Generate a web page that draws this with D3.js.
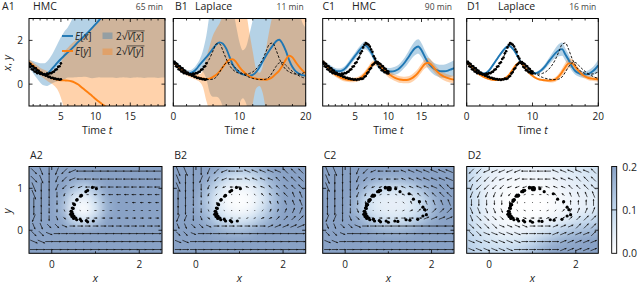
<!DOCTYPE html>
<html><head><meta charset="utf-8">
<script src="https://cdn.jsdelivr.net/npm/d3@7/dist/d3.min.js"></script>
<style>
html,body{margin:0;padding:0;background:#fff;}
svg{display:block;}
text{font-family:"Open Sans","DejaVu Sans",sans-serif;fill:#222;}
</style></head><body>
<svg id="chart" width="640" height="284"></svg>
<script>
// ================= DATA =================
const tGrid = [0,0.5,1,1.5,2,2.5,3,3.5,4,4.5,5,5.5,6,6.5,7,7.5,8,8.5,9,9.5,10,10.5,11,11.5,12,12.5,13,13.5,14,14.5,15,15.5,16,16.5,17,17.5,18,18.5,19,19.5,20];
// true trajectory (dashed)
const trueX = [1.00,0.80,0.64,0.54,0.48,0.45,0.46,0.50,0.58,0.72,0.92,1.18,1.52,1.84,1.84,1.52,1.15,0.85,0.66,0.55,0.49,0.46,0.46,0.49,0.56,0.69,0.88,1.14,1.48,1.82,1.88,1.58,1.18,0.87,0.67,0.56,0.49,0.46,0.46,0.49,0.56];
const trueY = [1.00,0.92,0.80,0.67,0.55,0.45,0.37,0.31,0.26,0.23,0.21,0.21,0.23,0.33,0.55,0.80,0.97,0.99,0.86,0.71,0.58,0.47,0.38,0.31,0.26,0.23,0.21,0.21,0.23,0.33,0.55,0.80,0.97,0.99,0.86,0.71,0.58,0.47,0.38,0.31,0.26];
// observations (dots)
const obsT = [0,0.2,0.4,0.6,0.8,1,1.2,1.4,1.6,1.8,2,2.2,2.4,2.6,2.8,3,3.2,3.4,3.6,3.8,4,4.2,4.4,4.6,4.8,5,5.2,5.4,5.6,5.8,6,6.2,6.4,6.6,6.8,7,7.2,7.4,7.6,7.8,8,8.2,8.4,8.6,8.8,9,9.2,9.4,9.6,9.8,10];
const obsX = [1.02,0.93,0.82,0.78,0.68,0.66,0.58,0.57,0.50,0.52,0.47,0.49,0.44,0.46,0.43,0.48,0.46,0.51,0.50,0.55,0.57,0.65,0.68,0.79,0.82,0.95,1.00,1.15,1.22,1.41,1.50,1.68,1.80,1.88,1.84,1.80,1.72,1.58,1.48,1.27,1.17,1.01,0.93,0.79,0.75,0.64,0.62,0.55,0.55,0.50,0.49];
const obsY = [0.99,1.02,0.95,0.92,0.83,0.81,0.73,0.72,0.63,0.61,0.53,0.52,0.45,0.44,0.38,0.39,0.33,0.33,0.28,0.29,0.25,0.26,0.22,0.23,0.20,0.22,0.19,0.22,0.21,0.25,0.24,0.26,0.34,0.37,0.49,0.55,0.68,0.74,0.87,0.92,0.99,0.98,1.01,0.95,0.92,0.84,0.81,0.72,0.69,0.60,0.58];

// posterior means and 2*sqrt(V) half-widths
const meanXA = [1.02,0.92,0.78,0.64,0.52,0.45,0.48,0.62,0.80,0.98,1.15,1.31,1.45,1.60,1.76,1.93,2.08,2.24,2.40,2.57,2.74,2.92,3.10,3.30,3.50,3.70,3.90,4.10,4.30,4.50,4.70,4.90,5.10,5.30,5.50,5.70,5.90,6.10,6.30,6.50,6.70];
const meanYA = [1.05,0.98,0.84,0.70,0.57,0.47,0.38,0.30,0.24,0.20,0.18,0.17,0.16,0.13,0.07,-0.02,-0.15,-0.28,-0.41,-0.54,-0.68,-0.81,-0.93,-1.03,-1.13,-1.23,-1.33,-1.43,-1.53,-1.63,-1.73,-1.83,-1.93,-2.03,-2.13,-2.23,-2.33,-2.43,-2.53,-2.63,-2.73];
const sdXA = [0.15,0.2,0.28,0.36,0.44,0.5,0.56,0.62,0.72,0.85,1.0,1.1,1.15,1.3,1.45,1.6,1.75,1.9,2.1,2.3,2.45,2.6,2.8,3.0,3.2,3.4,3.62,3.8,3.98,4.2,4.42,4.6,4.78,5.0,5.22,5.4,5.6,5.8,6.02,6.2,6.4];
const sdYA = [0.1,0.12,0.15,0.17,0.18,0.2,0.22,0.25,0.3,0.45,0.8,1.3,1.5,1.7,1.9,2.1,2.3,2.5,2.8,3.1,3.4,3.7,4.0,4.3,4.6,4.9,5.2,5.5,5.8,6.1,6.4,6.7,7.0,7.3,7.6,7.9,8.2,8.5,8.8,9.1,9.4];

const meanXB = [1.04,0.92,0.78,0.63,0.53,0.50,0.56,0.70,0.89,1.06,1.23,1.42,1.62,1.82,1.91,1.85,1.62,1.25,0.88,0.65,0.52,0.45,0.41,0.38,0.42,0.55,0.76,1.03,1.30,1.54,1.75,1.95,2.03,1.85,1.52,1.10,0.78,0.58,0.47,0.41,0.38];
const meanYB = [1.00,0.86,0.73,0.60,0.50,0.43,0.38,0.33,0.28,0.25,0.23,0.25,0.33,0.43,0.58,0.78,0.98,1.12,1.14,1.00,0.78,0.60,0.46,0.36,0.29,0.25,0.22,0.21,0.20,0.24,0.33,0.47,0.62,0.85,1.12,1.30,1.22,1.00,0.80,0.63,0.50];
const sdXB = [0.08,0.09,0.1,0.11,0.12,0.13,0.15,0.19,0.25,0.5,1.0,1.8,2.2,2.4,2.6,2.9,3.2,3.0,2.6,2.0,1.4,1.1,1.3,1.9,2.5,3.0,3.5,3.5,3.5,3.4,3.2,3.0,3.0,3.2,3.5,3.5,3.3,3.0,2.8,2.4,2.2];
const sdYB = [0.08,0.08,0.09,0.1,0.1,0.11,0.12,0.14,0.18,0.4,1.0,1.5,1.9,2.1,2.2,2.4,2.7,2.9,3.0,3.1,3.1,3.0,2.8,2.0,1.2,0.45,0.3,0.6,1.4,2.2,2.8,3.0,3.0,3.0,3.0,3.0,3.0,3.0,3.0,3.0,3.0];

const meanXC = [0.97,0.90,0.80,0.70,0.62,0.59,0.62,0.72,0.90,1.10,1.30,1.50,1.68,1.77,1.65,1.41,1.10,0.85,0.70,0.61,0.58,0.58,0.61,0.68,0.82,1.00,1.22,1.45,1.64,1.72,1.55,1.25,0.98,0.80,0.68,0.62,0.59,0.59,0.62,0.68,0.74];
const meanYC = [1.04,0.92,0.75,0.56,0.44,0.35,0.27,0.22,0.20,0.19,0.20,0.24,0.33,0.48,0.68,0.88,0.98,0.92,0.76,0.60,0.47,0.37,0.29,0.23,0.20,0.19,0.20,0.26,0.37,0.53,0.73,0.92,0.98,0.88,0.70,0.54,0.41,0.33,0.27,0.23,0.20];
const sdXC = [0.12,0.12,0.12,0.12,0.12,0.12,0.12,0.12,0.13,0.14,0.15,0.16,0.17,0.18,0.17,0.16,0.15,0.15,0.15,0.15,0.16,0.17,0.18,0.19,0.21,0.23,0.26,0.29,0.32,0.33,0.32,0.3,0.28,0.27,0.27,0.28,0.3,0.31,0.33,0.34,0.35];
const sdYC = [0.1,0.1,0.1,0.1,0.1,0.1,0.1,0.1,0.1,0.1,0.1,0.11,0.12,0.13,0.14,0.14,0.14,0.14,0.14,0.14,0.15,0.15,0.15,0.15,0.15,0.15,0.16,0.17,0.18,0.19,0.2,0.21,0.21,0.2,0.19,0.18,0.17,0.17,0.17,0.17,0.17];

const meanXD = [1.00,0.88,0.75,0.63,0.54,0.48,0.52,0.66,0.88,1.10,1.32,1.52,1.68,1.74,1.62,1.40,1.12,0.88,0.72,0.60,0.52,0.50,0.56,0.68,0.85,1.05,1.24,1.42,1.55,1.60,1.35,1.10,0.80,0.60,0.50,0.45,0.44,0.47,0.55,0.68,0.86];
const meanYD = [1.00,0.85,0.70,0.55,0.43,0.34,0.28,0.23,0.20,0.19,0.20,0.23,0.30,0.45,0.67,0.88,0.97,0.90,0.70,0.52,0.38,0.28,0.22,0.19,0.17,0.16,0.17,0.22,0.35,0.55,0.78,0.95,0.95,0.80,0.60,0.45,0.35,0.28,0.25,0.23,0.22];
const sdXD = [0.06,0.06,0.06,0.06,0.06,0.06,0.06,0.06,0.06,0.06,0.06,0.06,0.06,0.06,0.06,0.06,0.06,0.06,0.06,0.06,0.06,0.06,0.07,0.09,0.12,0.15,0.18,0.23,0.28,0.3,0.28,0.25,0.2,0.17,0.15,0.15,0.15,0.16,0.19,0.22,0.26];
const sdYD = [0.05,0.05,0.05,0.05,0.05,0.05,0.05,0.05,0.05,0.05,0.05,0.05,0.05,0.05,0.05,0.05,0.05,0.05,0.05,0.05,0.05,0.05,0.05,0.05,0.06,0.07,0.09,0.11,0.14,0.17,0.2,0.22,0.2,0.17,0.14,0.12,0.1,0.1,0.1,0.1,0.11];

const panelLabelsTop = ["A1","B1","C1","D1"];
const panelLabelsBottom = ["A2","B2","C2","D2"];
const methodNames = ["HMC","Laplace","HMC","Laplace"];
const runtimes = ["65 min","11 min","90 min","16 min"];
const timeTicksHMC = [5,10,15];
const timeTicksLaplace = [0,10,20];
const yTicksTop = [0,2];
const xTicksPhase = [0,2];
const yTicksPhase = [0,1];
const cbarTicks = [0.0,0.1,0.2];

// quiver grid (arrow centres)
const quiverX = [-0.41,-0.24,-0.06,0.12,0.29,0.47,0.65,0.82,1.00,1.18,1.35,1.53,1.71,1.88,2.06,2.24,2.41];
const quiverY = [1.41,1.22,1.03,0.85,0.66,0.47,0.29,0.10,-0.08,-0.27,-0.46];
// direction codes: hex digit k -> angle k*22.5deg counter-clockwise from +x ; length codes 0-9
const dirA = ["edcba988888888888","edcba988888888888","dccba998888888888","dcccba98888888888","cccccba8888888888","ccccdef0000000000","bccdef00000000000","ddeef000000000000","eef00000000000000","ff000000000000000","00000000000000000"];
const lenA = ["77777777777777777","88766666666666666","98765444455555555","98753222334444444","98642111222223333","87532111222222222","76543223333333333","66555555555555555","66666777777777777","77778888888888888","77788888888888888"];
const dirB = ["ddccba98877777666","dccbba98877776666","dcccba98877766666","ccccba98766666655","cccccba8655555555","ccccdef0122233333","bbcdef00011112222","ddeef000000011111","eef00000000000000","ff000000000000000","00000000000000000"];
const lenB = ["99876666666666666","99875555555555666","99864333333444556","98753211112334556","98642111111233456","87542111111233456","76543222222334556","55555555555556667","55566777777777777","66677888888888888","66677888888888888"];
const dirC = ["ddccba98887777777","dcccba98887777777","dcccba99887777766","ccccbba9877766666","ccccccba866555555","ccccddef011122222","bbcdeff0000001111","ddeef000000000000","eef00000000000000","ff000000000000000","00000000000000000"];
const lenC = ["99876655555666777","99876544444556667","99875433334455666","99865322223345566","98764311112344556","88754211112344556","77654333334455666","55556666777777788","55567788888888888","66678888888888888","66678888888888888"];
const dirD = ["aa999998888777776","aaaa9998888777666","baaaa999887776666","bbbbbaa9887665555","ccccccccb54444444","dddddeeff01223333","deeeeeff001122222","eeeeffff000111222","eefffff0000111112","fffffff0000011111","ffffff00000011111"];
const lenD = ["66666666666666666","66665555555555666","66655444444445566","66554332222334556","66544321001234456","66554322112234556","66654433333334566","66665555555555666","66666666666666666","66666666666666666","66666666666666666"];

// uncertainty heat maps (rows top y=1.5 to bottom y=-0.5)
const heatX = [-0.5,-0.25,0,0.25,0.5,0.75,1,1.25,1.5,1.75,2,2.25,2.5];
const heatY = [1.5,1.25,1,0.75,0.5,0.25,0,-0.25,-0.5];
const heatA = [
 [.2,.2,.2,.2,.2,.2,.2,.2,.2,.2,.2,.2,.2],
 [.2,.2,.2,.2,.2,.19,.2,.2,.2,.2,.2,.2,.2],
 [.2,.2,.2,.2,.14,.1,.15,.2,.2,.2,.2,.2,.2],
 [.2,.2,.2,.17,.06,.03,.09,.18,.2,.2,.2,.2,.2],
 [.2,.2,.2,.16,.03,.0,.06,.17,.2,.2,.2,.2,.2],
 [.2,.2,.2,.19,.1,.06,.12,.2,.2,.2,.2,.2,.2],
 [.2,.2,.2,.2,.2,.2,.2,.2,.2,.2,.2,.2,.2],
 [.2,.2,.2,.2,.2,.2,.2,.2,.2,.2,.2,.2,.2],
 [.2,.2,.2,.2,.2,.2,.2,.2,.2,.2,.2,.2,.2]];
const heatB = [
 [.2,.2,.2,.2,.19,.16,.14,.15,.18,.2,.2,.2,.2],
 [.2,.2,.2,.19,.14,.09,.07,.08,.13,.18,.2,.2,.2],
 [.2,.2,.2,.16,.08,.03,.02,.03,.07,.15,.2,.2,.2],
 [.2,.2,.19,.13,.05,.01,.0,.01,.05,.13,.2,.2,.2],
 [.2,.2,.19,.14,.06,.02,.01,.02,.07,.15,.2,.2,.2],
 [.2,.2,.2,.17,.11,.07,.06,.08,.13,.18,.2,.2,.2],
 [.2,.2,.2,.2,.18,.16,.15,.17,.2,.2,.2,.2,.2],
 [.2,.2,.2,.2,.2,.2,.2,.2,.2,.2,.2,.2,.2],
 [.2,.2,.2,.2,.2,.2,.2,.2,.2,.2,.2,.2,.2]];
const heatC = [
 [.2,.2,.2,.2,.2,.2,.2,.2,.2,.2,.2,.2,.2],
 [.2,.2,.2,.2,.2,.19,.18,.18,.19,.2,.2,.2,.2],
 [.2,.2,.2,.2,.15,.1,.08,.08,.1,.15,.19,.2,.2],
 [.2,.2,.2,.17,.09,.05,.04,.04,.05,.09,.16,.2,.2],
 [.2,.2,.2,.16,.08,.05,.04,.04,.05,.08,.15,.2,.2],
 [.2,.2,.2,.19,.14,.09,.07,.07,.09,.13,.18,.2,.2],
 [.2,.2,.2,.2,.2,.18,.17,.17,.18,.2,.2,.2,.2],
 [.2,.2,.2,.2,.2,.2,.2,.2,.2,.2,.2,.2,.2],
 [.2,.2,.2,.2,.2,.2,.2,.2,.2,.2,.2,.2,.2]];
const heatD = [
 [.1,.07,.05,.04,.04,.04,.04,.04,.05,.05,.06,.07,.08],
 [.1,.06,.04,.03,.02,.02,.02,.02,.03,.04,.05,.06,.07],
 [.1,.06,.03,.02,.01,.01,.01,.01,.02,.03,.04,.05,.06],
 [.1,.06,.03,.01,.0,.0,.0,.0,.01,.02,.03,.04,.05],
 [.1,.06,.03,.01,.0,.0,.0,.0,.01,.02,.03,.04,.06],
 [.1,.06,.03,.02,.01,.01,.01,.02,.03,.05,.07,.09,.1],
 [.1,.07,.05,.03,.03,.03,.04,.06,.09,.12,.14,.15,.16],
 [.11,.09,.07,.06,.06,.07,.09,.13,.16,.18,.19,.2,.2],
 [.12,.1,.09,.09,.1,.12,.15,.18,.2,.2,.2,.2,.2]];

// ================= DRAWING =================
const svg = d3.select("#chart");
const defs = svg.append("defs");
const BLUE = "#1f77b4", ORANGE = "#ff7f0e";
const BLUE_BAND = "rgba(31,119,180,0.33)", ORANGE_BAND = "rgba(255,127,14,0.35)";

const topY0 = 18.5, topY1 = 106;
const yTop = d3.scaleLinear().domain([-1,3]).range([topY1, topY0]);

const topPanels = [
 {k:"A", x0:29, x1:165, dom:[0.4,20], ticks:timeTicksHMC, minor:1, lx:2, mx:33, ylab:true, trueMax:5, obsMax:5, ex:meanXA, ey:meanYA, sx:sdXA, sy:sdYA},
 {k:"B", x0:173.3, x1:305.7, dom:[0,20], ticks:timeTicksLaplace, minor:2, lx:175, mx:195, ylab:false, trueMax:20, obsMax:5, ex:meanXB, ey:meanYB, sx:sdXB, sy:sdYB},
 {k:"C", x0:322.7, x1:454, dom:[0.1,19.9], ticks:timeTicksHMC, minor:1, lx:322.5, mx:352, ylab:false, trueMax:10, obsMax:10, ex:meanXC, ey:meanYC, sx:sdXC, sy:sdYC},
 {k:"D", x0:466.7, x1:598.3, dom:[0,20], ticks:timeTicksLaplace, minor:2, lx:467, mx:498, ylab:false, trueMax:20, obsMax:10, ex:meanXD, ey:meanYD, sx:sdXD, sy:sdYD}
];

function italicText(sel, parts) {
  parts.forEach(p => sel.append("tspan").text(p[0]).attr("font-style", p[1] ? "italic" : "normal"));
}

topPanels.forEach((p, pi) => {
  const x = d3.scaleLinear().domain(p.dom).range([p.x0, p.x1]);
  const cid = "clipTop" + p.k;
  defs.append("clipPath").attr("id", cid).append("rect")
    .attr("x", p.x0).attr("y", topY0).attr("width", p.x1 - p.x0).attr("height", topY1 - topY0);
  const g = svg.append("g");
  const pg = g.append("g").attr("clip-path", `url(#${cid})`);
  const idx = d3.range(tGrid.length);
  const band = (m, s) => d3.area().x(i => x(tGrid[i])).y0(i => yTop(m[i] - s[i])).y1(i => yTop(m[i] + s[i])).curve(d3.curveMonotoneX);
  const line = (m) => d3.line().x(i => x(tGrid[i])).y(i => yTop(m[i])).curve(d3.curveMonotoneX);
  pg.append("path").attr("d", band(p.ex, p.sx)(idx)).attr("fill", BLUE_BAND);
  pg.append("path").attr("d", band(p.ey, p.sy)(idx)).attr("fill", ORANGE_BAND);
  pg.append("path").attr("d", line(p.ex)(idx)).attr("fill", "none").attr("stroke", BLUE).attr("stroke-width", 1.9);
  pg.append("path").attr("d", line(p.ey)(idx)).attr("fill", "none").attr("stroke", ORANGE).attr("stroke-width", 1.9);
  const tIdx = idx.filter(i => tGrid[i] <= p.trueMax);
  [trueX, trueY].forEach(arr => {
    pg.append("path").attr("d", line(arr)(tIdx)).attr("fill", "none").attr("stroke", "#000")
      .attr("stroke-width", 0.9).attr("stroke-dasharray", "2.6,1.6");
  });
  const oIdx = d3.range(obsT.length).filter(i => obsT[i] <= p.obsMax + 1e-9);
  [obsX, obsY].forEach(arr => {
    pg.selectAll(null).data(oIdx).enter().append("circle")
      .attr("cx", i => x(obsT[i])).attr("cy", i => yTop(arr[i])).attr("r", 1.3).attr("fill", "#000");
  });
  // frame
  g.append("rect").attr("x", p.x0).attr("y", topY0).attr("width", p.x1 - p.x0).attr("height", topY1 - topY0)
    .attr("fill", "none").attr("stroke", "#000").attr("stroke-width", 1);
  // ticks
  const minorT = d3.range(Math.ceil(p.dom[0]), p.dom[1] + 1e-6, p.minor);
  minorT.forEach(t => {
    const major = p.ticks.includes(t);
    const L = major ? 3.5 : 2;
    g.append("line").attr("x1", x(t)).attr("x2", x(t)).attr("y1", topY1).attr("y2", topY1 - L).attr("stroke", "#000").attr("stroke-width", 0.8);
    g.append("line").attr("x1", x(t)).attr("x2", x(t)).attr("y1", topY0).attr("y2", topY0 + L).attr("stroke", "#000").attr("stroke-width", 0.8);
  });
  p.ticks.forEach(t => {
    g.append("text").attr("x", x(t)).attr("y", topY1 + 14).attr("text-anchor", "middle").attr("font-size", 10).text(t);
  });
  yTicksTop.forEach(v => {
    g.append("line").attr("x1", p.x0).attr("x2", p.x0 + 3.5).attr("y1", yTop(v)).attr("y2", yTop(v)).attr("stroke", "#000").attr("stroke-width", 0.8);
    g.append("line").attr("x1", p.x1).attr("x2", p.x1 - 3.5).attr("y1", yTop(v)).attr("y2", yTop(v)).attr("stroke", "#000").attr("stroke-width", 0.8);
    if (p.ylab) g.append("text").attr("x", p.x0 - 6).attr("y", yTop(v) + 3.6).attr("text-anchor", "end").attr("font-size", 10).text(v);
  });
  // axis label
  const tl = g.append("text").attr("x", (p.x0 + p.x1) / 2).attr("y", 133.5).attr("text-anchor", "middle").attr("font-size", 10.5);
  italicText(tl, [["Time ", false], ["t", true]]);
  // titles
  g.append("text").attr("x", p.lx).attr("y", 10).attr("font-size", 10.5).text(panelLabelsTop[pi]);
  g.append("text").attr("x", p.mx).attr("y", 10).attr("font-size", 10.5).text(methodNames[pi]);
  g.append("text").attr("x", p.x1 - 2).attr("y", 10).attr("text-anchor", "end").attr("font-size", 8.5).style("fill", "#444").text(runtimes[pi]);

  if (p.k === "A") {
    // legend
    const lg = svg.append("g");
    lg.append("line").attr("x1", 62).attr("x2", 73).attr("y1", 36).attr("y2", 36).attr("stroke", BLUE).attr("stroke-width", 1.9);
    lg.append("line").attr("x1", 62).attr("x2", 73).attr("y1", 51).attr("y2", 51).attr("stroke", ORANGE).attr("stroke-width", 1.9);
    const e1 = lg.append("text").attr("x", 75).attr("y", 39.5).attr("font-size", 10);
    italicText(e1, [["E", true], ["[", false], ["x", true], ["]", false]]);
    const e2 = lg.append("text").attr("x", 75).attr("y", 54.5).attr("font-size", 10);
    italicText(e2, [["E", true], ["[", false], ["y", true], ["]", false]]);
    lg.append("rect").attr("x", 102.5).attr("y", 32.5).attr("width", 10).attr("height", 6.5).attr("fill", BLUE_BAND);
    lg.append("rect").attr("x", 102.5).attr("y", 48.5).attr("width", 10).attr("height", 6.5).attr("fill", ORANGE_BAND);
    [["x", 39.5], ["y", 54.5]].forEach(([v, yy]) => {
      const tx = lg.append("text").attr("x", 116).attr("y", yy).attr("font-size", 10);
      italicText(tx, [["2\u221A", false], ["V", true], ["[", false], [v, true], ["]", false]]);
      const node = tx.node();
      const sx0 = 116 + node.getSubStringLength(0, 2);
      const w = node.getSubStringLength(2, 4);
      lg.append("line").attr("x1", sx0 - 0.5).attr("x2", sx0 + w + 0.5).attr("y1", yy - 8.6).attr("y2", yy - 8.6).attr("stroke", "#222").attr("stroke-width", 0.7);
    });
  }
});

// y label top row
const yl1 = svg.append("text").attr("transform", "translate(11,63) rotate(-90)").attr("text-anchor", "middle").attr("font-size", 11);
italicText(yl1, [["x", true], [", ", false], ["y", true]]);

// ---------------- bottom row ----------------
const botY0 = 166.5, botY1 = 253.3;
const yPh = d3.scaleLinear().domain([-0.55, 1.52]).range([botY1, botY0]);
const heatColor = d3.scaleLinear().domain([0, 0.1, 0.2]).range(["#ffffff", "#c2d8ee", "#89a2c6"]).clamp(true);

defs.append("filter").attr("id", "hblur").attr("x", "-10%").attr("y", "-10%").attr("width", "120%").attr("height", "120%")
  .append("feGaussianBlur").attr("stdDeviation", 4.2);

const botPanels = [
 {k:"A", x0:29, x1:162, heat:heatA, dirs:dirA, lens:lenA, obsMax:5, big:false, ylab:true},
 {k:"B", x0:173.3, x1:305.7, heat:heatB, dirs:dirB, lens:lenB, obsMax:5, big:false, ylab:false},
 {k:"C", x0:322.7, x1:454, heat:heatC, dirs:dirC, lens:lenC, obsMax:10, big:true, ylab:false},
 {k:"D", x0:466.7, x1:598.3, heat:heatD, dirs:dirD, lens:lenD, obsMax:10, big:true, ylab:false}
];

botPanels.forEach((p, pi) => {
  const xs = d3.scaleLinear().domain([-0.52, 2.52]).range([p.x0, p.x1]);
  const cid = "clipBot" + p.k;
  defs.append("clipPath").attr("id", cid).append("rect")
    .attr("x", p.x0).attr("y", botY0).attr("width", p.x1 - p.x0).attr("height", botY1 - botY0);
  const g = svg.append("g");
  const cg = g.append("g").attr("clip-path", `url(#${cid})`);
  const hg = cg.append("g").attr("filter", "url(#hblur)");
  const hw = 0.125;
  p.heat.forEach((row, j) => row.forEach((v, i) => {
    let xa = xs(heatX[i] - hw), xb = xs(heatX[i] + hw);
    let ya = yPh(heatY[j] + hw), yb = yPh(heatY[j] - hw);
    if (i === 0) xa -= 20; if (i === row.length - 1) xb += 20;
    if (j === 0) ya -= 20; if (j === p.heat.length - 1) yb += 20;
    hg.append("rect").attr("x", xa).attr("y", ya).attr("width", xb - xa + 0.6).attr("height", yb - ya + 0.6).attr("fill", heatColor(v));
  }));
  // quiver
  const qg = cg.append("g");
  p.dirs.forEach((row, j) => {
    for (let i = 0; i < row.length && i < quiverX.length; i++) {
      const code = parseInt(row[i], 16);
      const L = (+p.lens[j][i]) * 1.1;
      const a = code * Math.PI / 8;
      const cx = xs(quiverX[i]), cy = yPh(quiverY[j]);
      const ux = Math.cos(a), uy = -Math.sin(a);
      const half = Math.max(L, 0.9) / 2;
      const x1 = cx - ux * half, y1 = cy - uy * half, x2 = cx + ux * half, y2 = cy + uy * half;
      qg.append("line").attr("x1", x1).attr("y1", y1).attr("x2", x2).attr("y2", y2)
        .attr("stroke", "#1a1a1a").attr("stroke-width", 0.75).attr("stroke-linecap", "butt");
      if (L > 2.5) {
        const hl = 1.6, hwid = 0.85;
        const bx = x2 - ux * hl, by = y2 - uy * hl;
        const px = -uy, py = ux;
        qg.append("path").attr("d", `M${x2 + ux * 0.5},${y2 + uy * 0.5}L${bx + px * hwid},${by + py * hwid}L${bx - px * hwid},${by - py * hwid}Z`).attr("fill", "#1a1a1a");
      }
    }
  });
  // observation dots in phase space
  const oIdx = d3.range(obsT.length).filter(i => obsT[i] <= p.obsMax + 1e-9);
  cg.selectAll(null).data(oIdx).enter().append("circle")
    .attr("cx", i => xs(obsX[i])).attr("cy", i => yPh(obsY[i])).attr("r", (i) => (p.big && i === 0) ? 2.6 : 1.6).attr("fill", "#000");
  // frame
  g.append("rect").attr("x", p.x0).attr("y", botY0).attr("width", p.x1 - p.x0).attr("height", botY1 - botY0)
    .attr("fill", "none").attr("stroke", "#000").attr("stroke-width", 1);
  [0, 1, 2].forEach(v => {
    const L = xTicksPhase.includes(v) ? 3.5 : 2;
    g.append("line").attr("x1", xs(v)).attr("x2", xs(v)).attr("y1", botY1).attr("y2", botY1 - L).attr("stroke", "#000").attr("stroke-width", 0.8);
    g.append("line").attr("x1", xs(v)).attr("x2", xs(v)).attr("y1", botY0).attr("y2", botY0 + L).attr("stroke", "#000").attr("stroke-width", 0.8);
  });
  xTicksPhase.forEach(v => g.append("text").attr("x", xs(v)).attr("y", botY1 + 15).attr("text-anchor", "middle").attr("font-size", 10).text(v));
  yTicksPhase.forEach(v => {
    g.append("line").attr("x1", p.x0).attr("x2", p.x0 + 3.5).attr("y1", yPh(v)).attr("y2", yPh(v)).attr("stroke", "#000").attr("stroke-width", 0.8);
    g.append("line").attr("x1", p.x1).attr("x2", p.x1 - 3.5).attr("y1", yPh(v)).attr("y2", yPh(v)).attr("stroke", "#000").attr("stroke-width", 0.8);
    if (p.ylab) g.append("text").attr("x", p.x0 - 6).attr("y", yPh(v) + 3.6).attr("text-anchor", "end").attr("font-size", 10).text(v);
  });
  const xl = g.append("text").attr("x", (p.x0 + p.x1) / 2).attr("y", 281.5).attr("text-anchor", "middle").attr("font-size", 11);
  italicText(xl, [["x", true]]);
  g.append("text").attr("x", p.x0 + 1).attr("y", 158.5).attr("font-size", 10.5).text(panelLabelsBottom[pi]);
});

const yl2 = svg.append("text").attr("transform", "translate(11,211) rotate(-90)").attr("text-anchor", "middle").attr("font-size", 11);
italicText(yl2, [["y", true]]);

// colorbar
const cbX = 611.7, cbW = 5;
const cbScale = d3.scaleLinear().domain([0, 0.2]).range([botY1, botY0]);
const grad = defs.append("linearGradient").attr("id", "cbgrad").attr("x1", 0).attr("y1", 1).attr("x2", 0).attr("y2", 0);
d3.range(0, 1.0001, 0.1).forEach(f => grad.append("stop").attr("offset", f).attr("stop-color", heatColor(f * 0.2)));
svg.append("rect").attr("x", cbX).attr("y", botY0).attr("width", cbW).attr("height", botY1 - botY0).attr("fill", "url(#cbgrad)")
  .attr("stroke", "#000").attr("stroke-width", 0.9);
cbarTicks.forEach(v => {
  if (v > 0 && v < 0.2) svg.append("line").attr("x1", cbX).attr("x2", cbX + cbW).attr("y1", cbScale(v)).attr("y2", cbScale(v)).attr("stroke", "#000").attr("stroke-width", 0.8);
  svg.append("text").attr("x", cbX + 10.5).attr("y", cbScale(v) + 4).attr("font-size", 10.5).text(v.toFixed(1));
});
</script></body></html>
